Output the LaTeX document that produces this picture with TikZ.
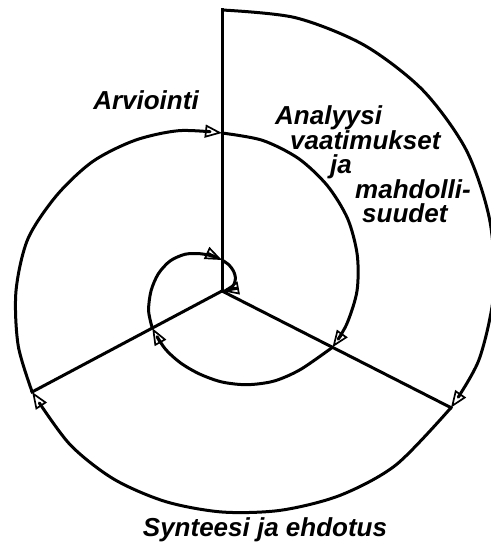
\documentclass[tikz,border=0pt]{standalone}
\usepackage{fontspec}
\newfontfamily\phasefont{Liberation Sans}
\usetikzlibrary{arrows.meta}

\begin{document}
\begin{tikzpicture}[x=1pt, y=1pt,
    ray/.style={line width=3pt, line cap=rect},
    spiral/.style={line width=3pt, line join=round,
                   -{Triangle[open, length=17pt, width=13pt, line width=1.7pt]}},
    phase/.style={font=\phasefont\bfseries\itshape\fontsize{26}{24}\selectfont,
                  inner sep=0pt}
  ]
  \useasboundingbox (-222,-255) rectangle (268,291);

  \coordinate (O) at (0,0);
  \coordinate (top) at (90:281);
  \coordinate (lr) at (-27:257);
  \coordinate (ll) at (208:215);
  \coordinate (c1) at (90:158);
  \coordinate (c2) at (-27:124);
  \coordinate (c3) at (208:79);
  \coordinate (c4) at (90:31);

  \draw[ray] (O) -- (top);
  \draw[ray] (O) -- (lr);
  \draw[ray] (O) -- (ll);

  \draw[spiral] plot[smooth] coordinates {(top) (75:283) (60:284) (45:284)
    (30:282) (15:277) (0:272) (-15:266) (lr)};
  \draw[spiral] plot[smooth] coordinates {(lr) (-45:246) (-60:236) (-75:227)
    (-90:221) (-105:218) (-120:217) (-135:216) (ll)};
  \draw[spiral] plot[smooth] coordinates {(ll) (-165:211) (-180:206) (-195:201)
    (-210:191) (-225:183) (-240:174) (-255:166) (c1)};
  \draw[spiral] plot[smooth] coordinates {(c1) (-285:156) (-300:153) (-315:149)
    (-330:145) (-345:140) (-360:135) (-375:129) (c2)};
  \draw[spiral] plot[smooth] coordinates {(c2) (-405:111) (-420:104) (-435:97)
    (-450:91) (-465:86) (-480:83) (-495:81) (c3)};
  \draw[spiral] plot[smooth] coordinates {(c3) (-525:76) (-540:71) (-555:66)
    (-570:60) (-585:52) (-600:43) (-615:36) (c4)};
  \draw[spiral] plot[smooth] coordinates {(c4) (-645:27) (-660:23) (-675:19)
    (-690:14) (-705:8) (O)};

  \node[phase] (arv) at (-76,191) {Arviointi};
  \node[phase, align=left, anchor=west] (ana) at (53,127)
    {Analyysi\\
     \hspace*{15pt}vaatimukset\\
     \hspace*{55pt}ja\\
     \hspace*{80pt}mahdolli-\\
     \hspace*{87pt}suudet};
  \node[phase] (syn) at (43,-239) {Synteesi ja ehdotus};
\end{tikzpicture}
\end{document}
